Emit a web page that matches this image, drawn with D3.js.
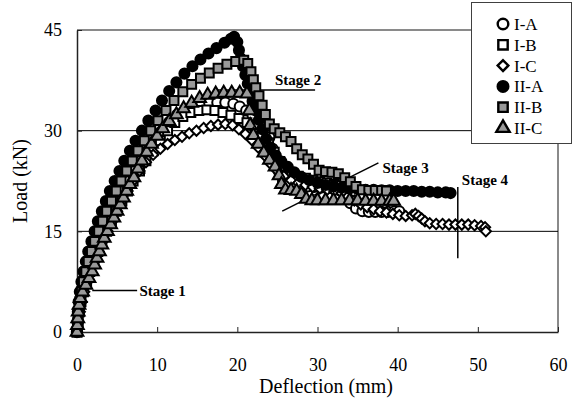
<!DOCTYPE html>
<html>
<head>
<meta charset="utf-8">
<script src="https://cdn.jsdelivr.net/npm/d3@7"></script>
<style>
  body { margin: 0; background: #fff; }
  svg { display: block; font-family: "Liberation Serif", "Times New Roman", serif; }
</style>
</head>
<body>
<div id="chart"></div>
<script>
// series data: [deflection (mm), load (kN)]
var seriesNames = ["I-A", "I-B", "I-C", "II-A", "II-B", "II-C"];

var dataIA = [[0,0],[0.1,1.5],[0.2,3],[0.4,4.5],[0.7,6],[1,7.5],[1.4,9],[1.8,10.5],[2.3,12],[2.8,13.5],[3.3,15],[3.9,16.5],[4.5,18],[5.1,19.5],[5.8,21],[6.5,22.5],[7.2,24],[8,25.5],[8.8,27],[9.7,28.5],[10.6,30],[11.5,31.3],[12.5,32.4],[13.5,33.1],[14.5,33.6],[15.5,33.9],[16.5,34.1],[17.5,34.2],[18.5,34.2],[19.5,34],[20.3,33.6],[21.1,33],[21.9,32.3],[22.7,31.5],[23.4,30.5],[24,29],[24.4,27.3],[24.8,25.6],[25.2,23.9],[25.7,22.5],[26.4,22],[27.2,21.9],[28,21.8],[28.8,21.7],[29.6,21.6],[30.4,21.5],[31.2,21.4],[32,21.3],[32.8,21.1],[33.5,20.3],[34.1,19.2],[34.8,18.4],[35.6,18],[36.4,17.9],[37.2,17.9],[38,17.9],[38.8,17.9],[39.6,18],[40.2,18]];

var dataIB = [[0,0],[0.15,1.5],[0.3,3],[0.5,4.5],[0.8,6],[1.2,7.5],[1.6,9],[2.1,10.5],[2.6,12],[3.1,13.5],[3.7,15],[4.3,16.5],[4.9,18],[5.6,19.5],[6.3,21],[7,22.5],[7.8,24],[8.6,25.5],[9.5,27],[10.4,28.5],[11.3,30],[12.2,31.2],[13.2,32.1],[14.2,32.7],[15.2,33],[16.2,33.1],[17.2,33],[18.2,32.7],[19.2,32.3],[20.2,31.8],[21.2,31.2],[22.2,30.5],[23.1,29.5],[23.9,28.2],[24.6,26.8],[25.3,25.4],[26,24.3],[26.8,23.6],[27.6,23.2],[28.5,22.9],[29.4,22.6],[30.3,22.4],[31.2,22.2],[32.1,22],[33,21.8]];

var dataIC = [[0,0],[0.15,1.5],[0.35,3],[0.6,4.5],[0.9,6],[1.3,7.5],[1.7,9],[2.2,10.5],[2.7,12],[3.2,13.5],[3.8,15],[4.4,16.5],[5,18],[5.6,19.5],[6.3,21],[7,22.5],[7.8,24],[8.6,25.3],[9.5,26.4],[10.4,27.3],[11.3,28],[12.2,28.6],[13.1,29.1],[14,29.6],[14.9,30],[15.8,30.4],[16.7,30.7],[17.6,30.9],[18.5,31],[19.4,30.8],[20.2,30.2],[21,29.5],[21.8,28.6],[22.6,27.5],[23.4,26.3],[24.2,25],[25,24],[25.8,23.2],[26.7,22.6],[27.6,22.2],[28.5,21.9],[29.4,21.6],[30.3,21.4],[31.2,21.2],[32.1,21],[33,20.7],[33.8,20.2],[34.6,19.6],[35.4,19],[36.2,18.6],[37,18.3],[37.8,18],[38.6,17.8],[39.4,17.6],[40.2,17.4],[41,17.3],[41.8,17.4],[42.2,17.6],[42.6,17.3],[43,16.9],[43.4,16.5],[44,16.2],[44.8,16.1],[45.6,16.1],[46.4,16],[47.2,16],[48,16],[48.8,16],[49.6,15.9],[50.4,15.8],[50.9,15.6],[51,15]];

var dataIIA = [[0,0],[0.05,1.5],[0.1,3],[0.2,4.5],[0.35,6],[0.55,7.5],[0.8,9],[1.1,10.5],[1.4,12],[1.8,13.5],[2.2,15],[2.6,16.5],[3.1,18],[3.6,19.5],[4.1,21],[4.7,22.5],[5.3,24],[5.9,25.5],[6.6,27],[7.3,28.5],[8.1,30],[8.9,31.5],[9.8,33],[10.6,34.5],[11.5,35.9],[12.4,37.2],[13.4,38.5],[14.4,39.6],[15.4,40.6],[16.4,41.5],[17.4,42.3],[18.4,43.1],[19.2,43.7],[19.6,44],[20,43.2],[20.2,42],[20.4,40.8],[20.7,39.6],[21,38.3],[21.3,37],[21.6,35.7],[21.9,34.4],[22.3,33],[22.7,31.6],[23.1,30.2],[23.6,28.8],[24.1,27.5],[24.8,26.3],[25.5,25.4],[26.3,24.6],[27.1,23.8],[28,23.1],[29,22.6],[30,22.2],[31,21.9],[32,21.7],[33,21.5],[34,21.4],[35,21.3],[36,21.2],[37,21.2],[38,21.1],[39,21.1],[40,21],[41,21],[42,21],[43,20.9],[44,20.9],[45,20.8],[46,20.8],[46.6,20.7]];

var dataIIB = [[0,0],[0.1,1.5],[0.2,3],[0.35,4.5],[0.55,6],[0.8,7.5],[1.1,9],[1.4,10.5],[1.8,12],[2.2,13.5],[2.7,15],[3.2,16.5],[3.7,18],[4.3,19.5],[4.9,21],[5.5,22.5],[6.2,24],[6.9,25.5],[7.6,27],[8.4,28.5],[9.2,30],[10.1,31.5],[11.1,33],[12.1,34.5],[13.2,35.8],[14.3,36.9],[15.4,37.8],[16.5,38.6],[17.6,39.3],[18.7,39.9],[19.8,40.3],[20.8,40.5],[21.3,40],[21.7,38.8],[22,37.6],[22.3,36.4],[22.7,35.2],[23.1,33.8],[23.5,32.4],[24,31],[24.6,30.3],[25.3,29.7],[26,29.1],[26.7,28.4],[27.4,27.3],[28.1,26.4],[28.8,25.8],[29.5,25],[30.2,24.1],[31,23.9],[31.8,23.8],[32.6,23.6],[33.4,23],[34.1,22.4],[34.8,21.7],[35.6,21.2],[36.4,21.1],[37.2,21.1],[38,21.1],[38.6,21]];

var dataIIC = [[0,0],[0.05,1],[0.1,2],[0.15,3],[0.25,4],[0.4,5],[0.7,6],[1.1,7],[1.5,8],[1.9,9],[2.2,10],[2.5,11],[2.8,12],[3.1,13],[3.4,14],[3.8,15],[4.2,16],[4.6,17],[5,18],[5.4,19],[5.8,20],[6.2,21],[6.6,22],[7.1,23],[7.6,24.3],[8.1,25.5],[8.7,26.8],[9.3,28],[10,29.2],[10.7,30.3],[11.5,31.4],[12.4,32.4],[13.3,33.3],[14.3,34.1],[15.3,34.8],[16.3,35.3],[17.3,35.5],[18.3,35.6],[19.3,35.6],[20.3,35.6],[21.2,35.5],[21.5,33],[21.6,30.8],[22,29.3],[22.6,28],[23.3,26.7],[24,25.6],[24.7,24.6],[25.2,23.3],[25.5,22],[26,21.2],[26.7,21.1],[27.4,21],[28,20.5],[28.6,19.8],[29.3,19.6],[30,19.6],[31,19.6],[32,19.6],[33,19.6],[34,19.6],[35,19.6],[36,19.5],[37,19.5],[38,19.5],[39,19.5],[39.5,19.5]];

var xTicks = [0, 10, 20, 30, 40, 50, 60];
var yTicks = [0, 15, 30, 45];
var gridLoads = [15, 30];

// stage annotations, in data units: line x1,y1,x2,y2 and text anchor
var stageNames = ["Stage 1", "Stage 2", "Stage 3", "Stage 4"];
var stageLines = [[1.9, 6.2, 7.5, 6.2], [17.5, 36.05, 29.7, 36.05], [25.6, 18.0, 37.6, 25.2], [47.5, 21.6, 47.5, 11.0]];
var stageText = [[7.8, 6.2], [24.7, 37.6], [38.1, 24.4], [48.0, 22.7]];

var series = [
  { name: "I-A", data: dataIA, shape: "circle", fill: "#fff" },
  { name: "I-B", data: dataIB, shape: "square", fill: "#fff" },
  { name: "I-C", data: dataIC, shape: "diamond", fill: "#fff" },
  { name: "II-A", data: dataIIA, shape: "circle", fill: "#000" },
  { name: "II-B", data: dataIIB, shape: "square", fill: "#999" },
  { name: "II-C", data: dataIIC, shape: "triangle", fill: "#999" }
];

var width = 580, height = 401;
var plot = { left: 77, right: 558, top: 30, bottom: 332 };

var svg = d3.select("#chart").append("svg")
    .attr("width", width)
    .attr("height", height);

var x = d3.scaleLinear().domain([0, 60]).range([plot.left, plot.right]);
var y = d3.scaleLinear().domain([0, 45]).range([plot.bottom, plot.top]);

// plot frame (top/right grey)
svg.append("path")
    .attr("d", "M" + plot.left + "," + y(45) + "H" + x(60) + "V" + plot.bottom)
    .attr("fill", "none")
    .attr("stroke", "#8a8a8a")
    .attr("stroke-width", 2);

// gridlines
svg.selectAll(".grid").data(gridLoads).enter().append("line")
    .attr("class", "grid")
    .attr("x1", plot.left).attr("x2", plot.right)
    .attr("y1", function(d) { return y(d); })
    .attr("y2", function(d) { return y(d); })
    .attr("stroke", "#000")
    .attr("stroke-width", 1);

// axes
var xAxis = svg.append("g")
    .attr("transform", "translate(0," + plot.bottom + ")")
    .call(d3.axisBottom(x).tickValues(xTicks).tickSize(-5).tickPadding(26).tickSizeOuter(0));
var yAxis = svg.append("g")
    .attr("transform", "translate(" + plot.left + ",0)")
    .call(d3.axisLeft(y).tickValues(yTicks).tickSize(-5).tickPadding(15).tickSizeOuter(0));

[xAxis, yAxis].forEach(function(ax) {
  ax.select(".domain").attr("stroke", "#222").attr("stroke-width", 1.5);
  ax.selectAll(".tick line").attr("stroke", "#222").attr("stroke-width", 1);
  ax.selectAll(".tick text")
    .attr("font-family", "'Liberation Serif', 'Times New Roman', serif")
    .attr("font-size", 18)
    .attr("fill", "#000");
});

// axis titles
svg.append("text")
    .attr("x", 326).attr("y", 393)
    .attr("text-anchor", "middle")
    .attr("font-size", 20)
    .text("Deflection (mm)");
svg.append("text")
    .attr("transform", "translate(27," + ((plot.top + plot.bottom) / 2) + ") rotate(-90)")
    .attr("text-anchor", "middle")
    .attr("font-size", 20)
    .text("Load (kN)");

// stage annotations (drawn under the markers)
svg.selectAll(".stage-line").data(stageLines).enter().append("line")
    .attr("class", "stage-line")
    .attr("x1", function(d) { return x(d[0]); })
    .attr("y1", function(d) { return y(d[1]); })
    .attr("x2", function(d) { return x(d[2]); })
    .attr("y2", function(d) { return y(d[3]); })
    .attr("stroke", "#000")
    .attr("stroke-width", 1.5);
svg.selectAll(".stage-text").data(stageText).enter().append("text")
    .attr("class", "stage-text")
    .attr("x", function(d) { return x(d[0]); })
    .attr("y", function(d) { return y(d[1]); })
    .attr("dy", "0.35em")
    .attr("font-size", 15)
    .attr("font-weight", "bold")
    .text(function(d, i) { return stageNames[i]; });

function symbolPath(shape, scale) {
  var s = scale || 1;
  if (shape === "circle") return d3.symbol(d3.symbolCircle, 80 * s)();
  if (shape === "square") return d3.symbol(d3.symbolSquare, 80 * s)();
  if (shape === "diamond") return d3.symbol(d3.symbolSquare, 52 * s)();
  return d3.symbol(d3.symbolTriangle, 70 * s)();
}

// markers
series.forEach(function(s) {
  svg.append("g").selectAll("path")
    .data(s.data)
    .enter().append("path")
    .attr("d", symbolPath(s.shape))
    .attr("transform", function(d) {
      return "translate(" + x(d[0]) + "," + y(d[1]) + ")" + (s.shape === "diamond" ? " rotate(45)" : "");
    })
    .attr("fill", s.fill)
    .attr("stroke", "#000")
    .attr("stroke-width", 2);
});

// legend
var legend = svg.append("g");
legend.append("rect")
    .attr("x", 471.5).attr("y", 2.5)
    .attr("width", 100).attr("height", 141)
    .attr("fill", "#fff")
    .attr("stroke", "#404040")
    .attr("stroke-width", 1);

var legendY = d3.scalePoint().domain(seriesNames).range([24, 128]);
var items = legend.selectAll(".item").data(series).enter().append("g")
    .attr("class", "item")
    .attr("transform", function(d) { return "translate(0," + legendY(d.name) + ")"; });
items.append("path")
    .attr("d", function(d) { return symbolPath(d.shape, 1.1); })
    .attr("transform", function(d) { return "translate(503,0)" + (d.shape === "diamond" ? " rotate(45)" : ""); })
    .attr("fill", function(d) { return d.fill; })
    .attr("stroke", "#000")
    .attr("stroke-width", 2.4);
items.append("text")
    .attr("x", 514)
    .attr("dy", "0.35em")
    .attr("font-size", 17)
    .text(function(d) { return d.name; });
</script>
</body>
</html>
